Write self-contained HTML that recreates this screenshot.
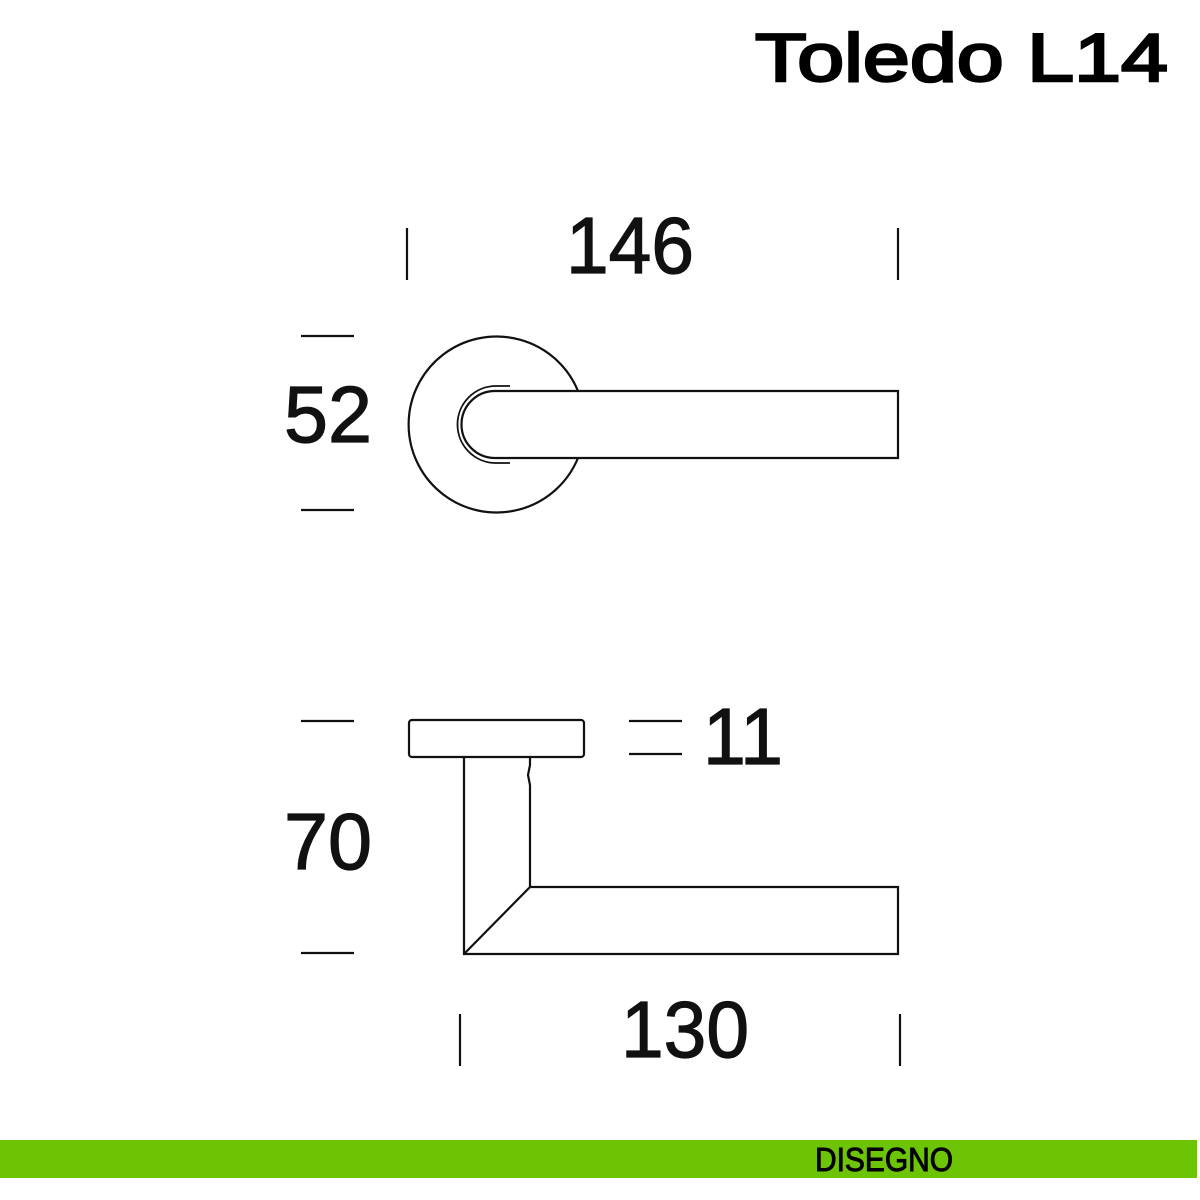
<!DOCTYPE html>
<html><head><style>
html,body{margin:0;padding:0;background:#fff;width:1200px;height:1200px;overflow:hidden}
svg{display:block}
</style></head><body>
<svg width="1200" height="1200" viewBox="0 0 1200 1200" xmlns="http://www.w3.org/2000/svg">
<text x="755" y="81" font-family="Liberation Sans, sans-serif" font-size="68" textLength="413" lengthAdjust="spacingAndGlyphs" fill="#000" stroke="#000" stroke-width="2.5">Toledo L14</text>
<g font-family="Liberation Sans, sans-serif" font-size="80" fill="#111" stroke="#111" stroke-width="1.2">
<text x="566" y="273" textLength="128" lengthAdjust="spacingAndGlyphs">146</text>
<text x="284" y="442" textLength="88" lengthAdjust="spacingAndGlyphs">52</text>
<text x="703" y="764" textLength="80" lengthAdjust="spacingAndGlyphs">11</text>
<text x="284" y="869" textLength="88" lengthAdjust="spacingAndGlyphs">70</text>
<text x="621" y="1057" textLength="128" lengthAdjust="spacingAndGlyphs">130</text>
</g>
<g stroke="#111" stroke-width="2.2" fill="none">
<line x1="407" y1="228" x2="407" y2="280"/>
<line x1="898" y1="228" x2="898" y2="280"/>
<line x1="301" y1="336" x2="354" y2="336"/>
<line x1="301" y1="510" x2="354" y2="510"/>
<line x1="301" y1="721" x2="354" y2="721"/>
<line x1="301" y1="953" x2="354" y2="953"/>
<line x1="629" y1="721" x2="682" y2="721"/>
<line x1="629" y1="754" x2="682" y2="754"/>
<line x1="460" y1="1014" x2="460" y2="1066"/>
<line x1="900" y1="1014" x2="900" y2="1066"/>
<!-- front view -->
<path d="M578 391 A88 88 0 1 0 578 458"/>
<path d="M898 391 H495 A33.5 33.5 0 0 0 495 458 H898 Z"/>
<path d="M510 386 H496 A38.5 38.5 0 0 0 496 463 H510" stroke-width="1.8"/>
<!-- side view -->
<rect x="409" y="720" width="175" height="37" rx="3"/>
<path d="M464 757 V954 H898 V887 H530 V785 L528 775 L530 765 V757"/>
<line x1="464" y1="954" x2="530" y2="887"/>
</g>
<rect x="0" y="1140" width="1197" height="38" fill="#6dc405"/>
<text x="815" y="1171" font-family="Liberation Sans, sans-serif" font-size="33" textLength="138" lengthAdjust="spacingAndGlyphs" fill="#000" stroke="#000" stroke-width="1">DISEGNO</text>
</svg>
</body></html>
